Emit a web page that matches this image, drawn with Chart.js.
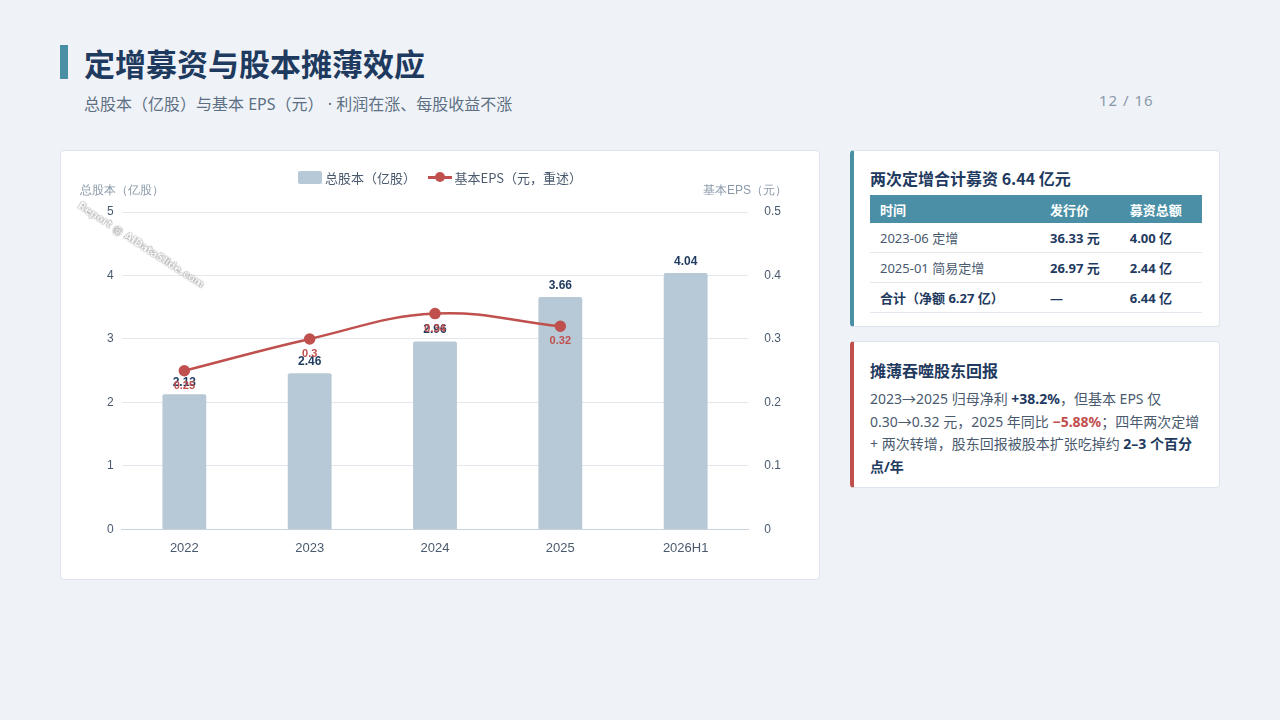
<!DOCTYPE html>
<html><head><meta charset="utf-8">
<script src="https://cdn.jsdelivr.net/npm/chart.js@4.4.1/dist/chart.umd.min.js"></script>
<style>
body{margin:0;width:1280px;height:720px;background:#eff3f8;font-family:"Noto Sans","Noto Sans CJK SC",sans-serif;position:relative;overflow:hidden;color:#1f3a5f}
.acc{position:absolute;left:60px;top:45px;width:8px;height:34px;background:#4a90a4}
h1{position:absolute;left:84px;top:40px;margin:0;font-size:31px;font-weight:700;color:#1f3a5f;font-family:"Noto Sans CJK SC",sans-serif}
.sub{position:absolute;left:84px;top:91px;font-size:16px;color:#5d6f83}
.pg{position:absolute;left:1099px;top:90px;font-size:15px;color:#8a99aa;letter-spacing:1px}
.card{position:absolute;background:#fff;border:1px solid #dde4ec;border-radius:4px;box-sizing:border-box}
.wm{position:absolute;left:82px;top:200px;transform:rotate(33deg);transform-origin:left top;font-size:10px;color:#fff;font-weight:700;text-shadow:0 0 1px #777,0 0 1px #777,0 0 1px #777;font-family:"DejaVu Sans"}
.c h3{margin:0;font-size:16px;font-weight:700;color:#1f3a5f;font-family:"Noto Sans CJK SC",sans-serif}
table{border-collapse:collapse;width:332px;margin-top:5px;font-size:13px}
th{background:#4a8fa6;color:#fff;text-align:left;font-weight:700;height:28px;padding:0 10px;font-family:"Noto Sans CJK SC"}
td{height:29px;padding:0 10px;border-bottom:1px solid #e3e8ef;color:#4a5a6e}
td.b{font-weight:700;color:#1f3a5f}
.p{font-size:14px;line-height:22.5px;color:#4a5a6e;margin-top:6px}
.p b{color:#1f3a5f}.p .r{color:#c0504d;font-weight:700}
.lg{position:absolute;top:15px;left:0;width:758px;text-align:center;font-size:13px;color:#4a5a6e;font-family:"Noto Sans CJK SC"}
.lg span{display:inline-block;vertical-align:middle}
</style></head><body>
<div class="acc"></div>
<h1>定增募资与股本摊薄效应</h1>
<div class="sub">总股本（亿股）与基本 EPS（元）&nbsp;· 利润在涨、每股收益不涨</div>
<div class="pg">12 / 16</div>
<div class="card" style="left:60px;top:150px;width:760px;height:430px">
<div style="position:absolute;left:0;top:0;width:758px;height:428px"><canvas id="c"></canvas></div>
<div class="lg"><span style="width:24px;height:13px;background:#b7c9d6;border-radius:2px"></span> <span>总股本（亿股）</span>&nbsp;&nbsp;&nbsp;
<span style="width:24px;height:12px;position:relative"><span style="position:absolute;left:0;top:5px;width:24px;height:2.5px;background:#c0504d"></span><span style="position:absolute;left:7px;top:1px;width:10px;height:10px;border-radius:50%;background:#c0504d"></span></span> <span>基本EPS（元，重述）</span></div>
</div>
<div class="wm">Report @ AIDataSlide.com</div>
<div class="card c" style="left:850px;top:150px;width:370px;height:177px;border-left:4px solid #4a90a4;padding:15px 0 0 16px">
<h3>两次定增合计募资 6.44 亿元</h3>
<table>
<tr><th style="width:150px">时间</th><th>发行价</th><th>募资总额</th></tr>
<tr><td>2023-06 定增</td><td class="b">36.33 元</td><td class="b">4.00 亿</td></tr>
<tr><td>2025-01 简易定增</td><td class="b">26.97 元</td><td class="b">2.44 亿</td></tr>
<tr><td class="b">合计（净额 6.27 亿）</td><td class="b">—</td><td class="b">6.44 亿</td></tr>
</table></div>
<div class="card c" style="left:850px;top:341px;width:370px;height:147px;border-left:4px solid #c0504d;padding:16px 16px 0 16px">
<h3>摊薄吞噬股东回报</h3>
<div class="p">2023→2025 归母净利 <b>+38.2%</b>，但基本 EPS 仅 0.30→0.32 元，2025 年同比 <span class="r">−5.88%</span>；四年两次定增 + 两次转增，股东回报被股本扩张吃掉约 <b>2–3 个百分点/年</b></div>
</div>
<script>
const categories=["2022","2023","2024","2025","2026H1"];
const shares=[2.13,2.46,2.96,3.66,4.04];
const eps=[0.25,0.30,0.34,0.32,null];
const epsLabels=["0.25","0.3","0.34","0.32",""];
const lblPlugin={id:"lbl",afterDatasetsDraw(ch){
 const x=ch.ctx;x.save();x.textAlign="center";
 ch.getDatasetMeta(0).data.forEach((b,i)=>{x.font="bold 12px Arial";x.fillStyle="#1f3a5f";x.fillText(shares[i].toFixed(2),b.x,b.y-8);});
 ch.getDatasetMeta(1).data.forEach((p,i)=>{if(eps[i]==null)return;x.font="bold 11px Arial";x.fillStyle="#c0504d";x.fillText(epsLabels[i],p.x,p.y+18);});
 x.font="12px Arial";x.fillStyle="#8a99aa";
 x.textAlign="left";x.fillText("总股本（亿股）",19,43);
 x.textAlign="right";x.fillText("基本EPS（元）",726,43);
 x.restore();}};
new Chart(document.getElementById("c"),{
 data:{labels:categories,datasets:[
  {type:"bar",label:"总股本（亿股）",data:shares,backgroundColor:"#b7c9d6",borderRadius:2,barPercentage:0.35,categoryPercentage:1,yAxisID:"y",order:2},
  {type:"line",label:"基本EPS（元，重述）",data:eps,borderColor:"#c0504d",backgroundColor:"#c0504d",borderWidth:2.5,pointRadius:4.5,tension:0.4,yAxisID:"y1",order:1}
 ]},
 options:{responsive:true,maintainAspectRatio:false,animation:false,
  layout:{padding:{left:38,right:30,top:61,bottom:20}},
  plugins:{legend:{display:false},tooltip:{enabled:false}},
  scales:{
   x:{grid:{display:false},border:{color:"#c9d3de"},ticks:{color:"#4a5a6e",font:{size:13,family:"Arial"}}},
   y:{min:0,max:5,ticks:{stepSize:1,color:"#4a5a6e",font:{size:12,family:"Arial"},padding:8},grid:{color:"#e3e8ef",drawTicks:false},border:{display:false}},
   y1:{position:"right",min:0,max:0.5,ticks:{stepSize:0.1,color:"#4a5a6e",font:{size:12,family:"Arial"},padding:8},grid:{display:false},border:{display:false}}
  }},
 plugins:[lblPlugin]});
</script></body></html>
